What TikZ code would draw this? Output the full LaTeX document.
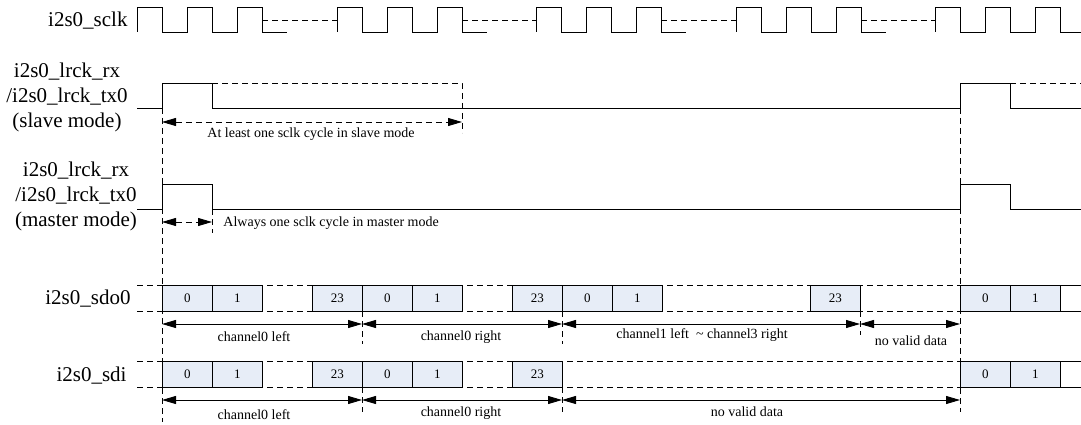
\documentclass[tikz,border=0pt]{standalone}
\usepackage{fontspec}
\setmainfont{Liberation Serif}
\usetikzlibrary{arrows.meta}
\definecolor{boxblue}{RGB}{231,237,247}
\begin{document}
\begin{tikzpicture}[x=1pt,y=-1pt, line width=0.9pt,
  dsh/.style={dash pattern=on 6pt off 4pt},
  big/.style={font=\fontsize{21}{25}\selectfont, inner sep=0pt},
  small/.style={font=\fontsize{14}{16}\selectfont, inner sep=0pt},
  bit/.style={draw, fill=boxblue, minimum width=50pt, minimum height=26pt, inner sep=0pt, anchor=north west, font=\fontsize{13}{15}\selectfont},
  dim/.style={{Triangle[length=14pt,width=8pt]}-{Triangle[length=14pt,width=8pt]}, line width=0.9pt},
]
\useasboundingbox (0,0) rectangle (1081,425);

% ---------- labels ----------
\node[big, anchor=base east] (lsclk) at (128,27) {i2s0\_sclk};
\node[big, anchor=base] (ls1) at (67,78) {i2s0\_lrck\_rx};
\node[big, anchor=base] (ls2) at (67,103) {/i2s0\_lrck\_tx0};
\node[big, anchor=base] (ls3) at (67,128) {(slave mode)};
\node[big, anchor=base] (lm1) at (76,176) {i2s0\_lrck\_rx};
\node[big, anchor=base] (lm2) at (76,201) {/i2s0\_lrck\_tx0};
\node[big, anchor=base] (lm3) at (76,226) {(master mode)};
\node[big, anchor=base east] (lsdo) at (131,304) {i2s0\_sdo0};
\node[big, anchor=base east] (lsdi) at (127,381) {i2s0\_sdi};

% ---------- sclk ----------
\foreach \g/\n in {137/337,337/536,536/736,736/935}{
  \draw (\g,32) -- (\g,7) -| (\g+25,32) -| (\g+50,7) -| (\g+75,32) -| (\g+100,7) -| (\g+125,32) -- (\g+150,32);
  \draw[dsh] (\g+125,20) -- (\n,20);
}
\draw (935,32) -- (935,7) -| (960,32) -| (985,7) -| (1010,32) -| (1035,7) -| (1060,32) -- (1081,32);

% ---------- lrck slave ----------
\draw (137,108) -| (162,83) -| (212,108) -| (960,83) -| (1010,108) -- (1081,108);
\draw[dsh] (212,83) -- (462,83) -- (462,133);
\draw[dsh] (1010,83) -- (1081,83);
\coordinate (sa) at (162,122);
\coordinate (sb) at (462,122);
\draw[dim,dsh] (sa) -- (sb);
\node[small, anchor=base] (tslave) at (311,138) {At least one sclk cycle in slave mode};

% ---------- lrck master ----------
\draw (137,209) -| (162,184) -| (212,209) -| (960,184) -| (1010,209) -- (1081,209);
\draw[dsh] (212,209) -- (212,233);
\coordinate (ma) at (162,222);
\coordinate (mb) at (212,222);
\draw[dim,dsh] (ma) -- (mb);
\node[small, anchor=base west] (tmaster) at (223,226) {Always one sclk cycle in master mode};

% ---------- long guides ----------
\draw[dsh] (162,108) -- (162,422);
\draw[dsh] (960,108) -- (960,412);

% ---------- sdo0 ----------
\draw[dsh] (137,285) -- (960,285);
\draw[dsh] (137,311) -- (960,311);
\foreach \x/\t/\nm in {162/0/a0,212/1/a1,312/23/a23,362/0/b0,412/1/b1,512/23/b23,562/0/c0,612/1/c1,810/23/c23,960/0/d0,1010/1/d1}{
  \node[bit] (o\nm) at (\x,285) {\t};
}
\draw (1060,285) -- (1081,285);
\draw (1060,311) -- (1081,311);
\draw[dsh] (362,311) -- (362,344);
\draw[dsh] (562,311) -- (562,344);
\draw[dsh] (860,311) -- (860,335);
\coordinate (o1) at (162,324);
\coordinate (o2) at (362,324);
\coordinate (o3) at (562,324);
\coordinate (o4) at (860,324);
\coordinate (o5) at (960,324);
\draw[dim] (o1) -- (o2);
\draw[dim] (o2) -- (o3);
\draw[dim] (o3) -- (o4);
\draw[dim] (o4) -- (o5);
\node[small, anchor=base] (tol) at (254,341) {channel0 left};
\node[small, anchor=base] (tor) at (461,340) {channel0 right};
\node[small, anchor=base] (toc) at (702,338) {channel1 left\ \ \textasciitilde\ channel3 right};
\node[small, anchor=base] (ton) at (911,345) {no valid data};

% ---------- sdi ----------
\draw[dsh] (137,361) -- (960,361);
\draw[dsh] (137,387) -- (960,387);
\foreach \x/\t/\nm in {162/0/a0,212/1/a1,312/23/a23,362/0/b0,412/1/b1,512/23/b23,960/0/d0,1010/1/d1}{
  \node[bit] (i\nm) at (\x,361) {\t};
}
\draw (1060,361) -- (1081,361);
\draw (1060,387) -- (1081,387);
\draw[dsh] (362,387) -- (362,412);
\draw[dsh] (562,387) -- (562,412);
\coordinate (i1) at (162,400);
\coordinate (i2) at (362,400);
\coordinate (i3) at (562,400);
\coordinate (i4) at (960,400);
\draw[dim] (i1) -- (i2);
\draw[dim] (i2) -- (i3);
\draw[dim] (i3) -- (i4);
\node[small, anchor=base] (til) at (254,419) {channel0 left};
\node[small, anchor=base] (tir) at (461,416) {channel0 right};
\node[small, anchor=base] (tin) at (747,416) {no valid data};
\end{tikzpicture}
\end{document}
